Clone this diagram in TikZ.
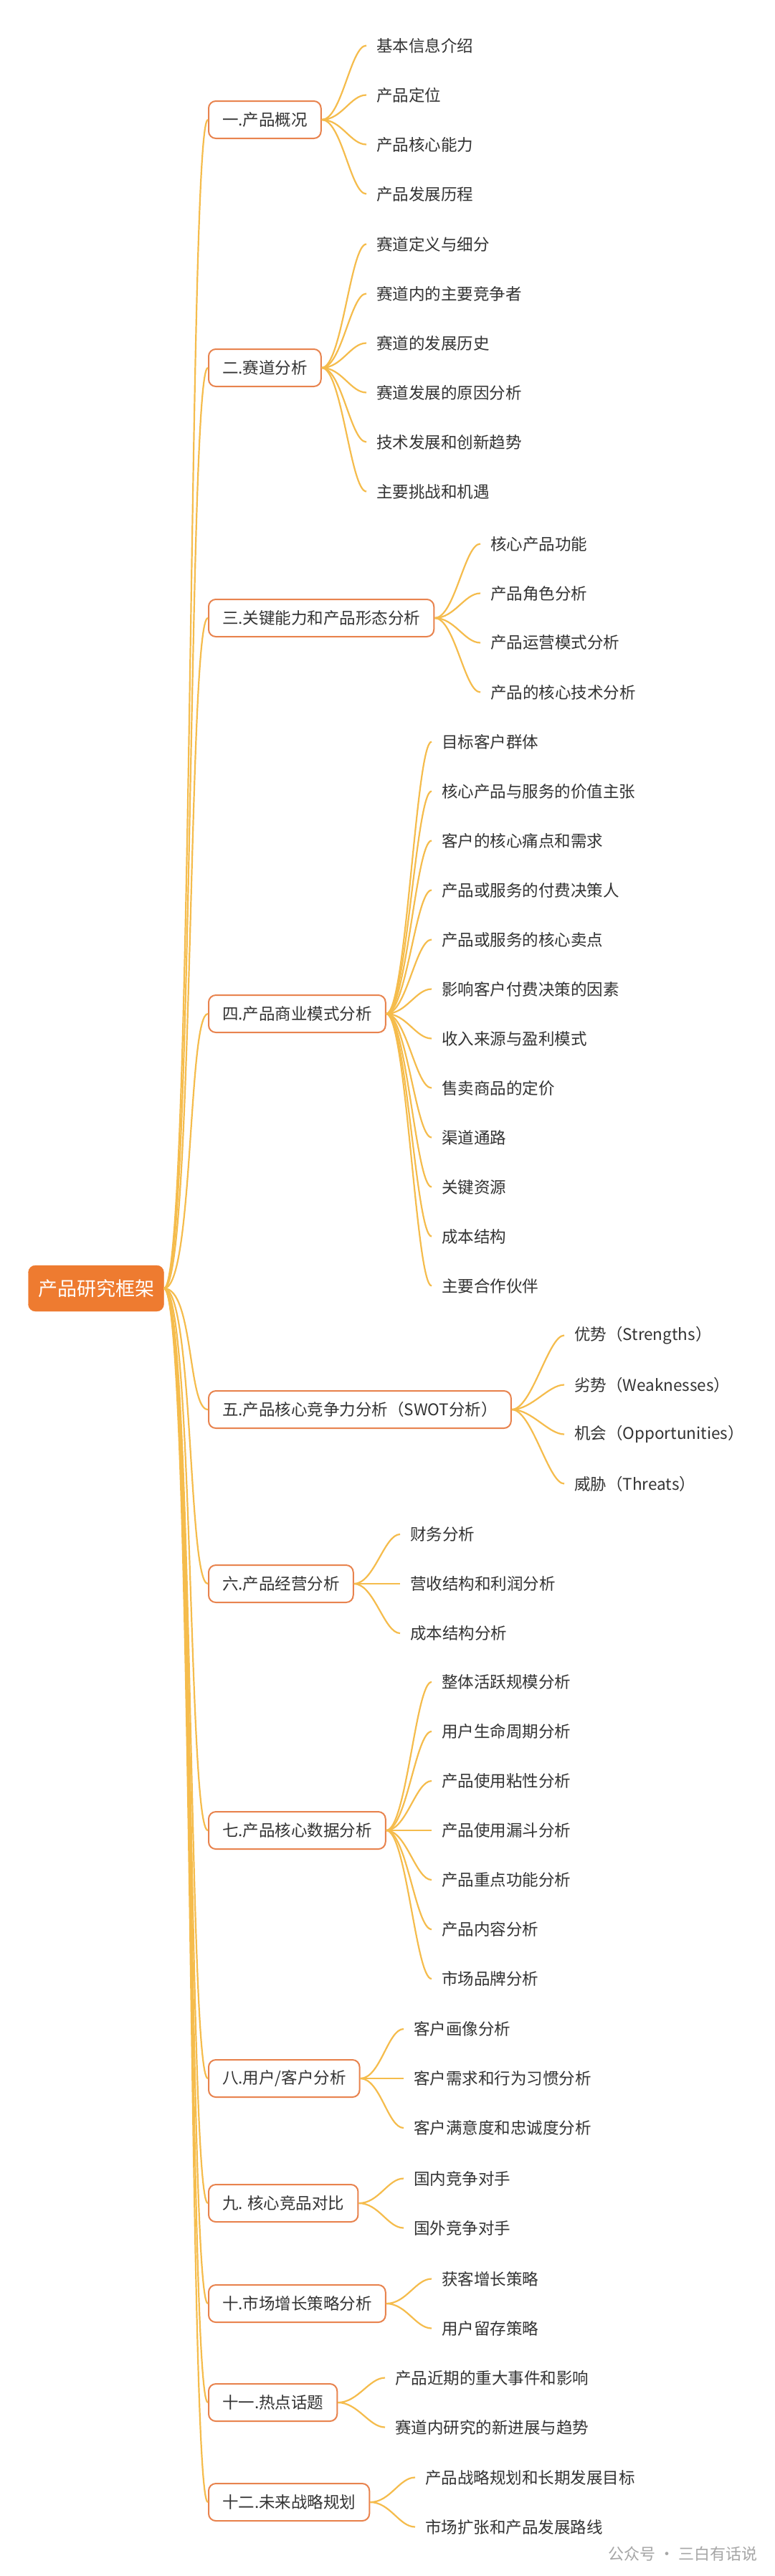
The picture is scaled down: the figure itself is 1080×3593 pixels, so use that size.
\documentclass[tikz,border=0pt]{standalone}
\usepackage{fontspec}
\setmainfont{Noto Sans CJK SC}
\usetikzlibrary{positioning}
\definecolor{linkc}{HTML}{F5BC4C}
\definecolor{boxc}{HTML}{E8834E}
\definecolor{rootc}{HTML}{EE7B30}
\definecolor{txtc}{HTML}{333333}
\tikzset{
  rootbox/.style={fill=rootc,draw=rootc,rounded corners=10pt,text=white,minimum width=189pt,minimum height=64pt,font=\fontsize{27}{30}\selectfont},
  mainbox/.style={draw=boxc,line width=2pt,rounded corners=10pt,anchor=west,inner xsep=19pt,minimum height=52pt,text=txtc},
  leaf/.style={anchor=west,inner xsep=14pt,inner ysep=4pt,text=txtc},
  link/.style={draw=linkc,line width=2.2pt}
}
% #1 name, #2 y, #3 leaf x, #4 count, #5 leaves
\newcommand\branch[5]{%
  \draw[link] (root.east) .. controls (270,1797) and (262,#2) .. (#1.west);
  \foreach \t [count=\i] in {#5}{
    \node[leaf] (#1-\i) at (#3-23,{#2+(\i-(#4+1)/2)*69}) {\t};
    \draw[link] (#1.east) .. controls +(28,0) and +(-22,0) .. (#1-\i.west);
  }}
\begin{document}
\begin{tikzpicture}[x=1pt,y=-1pt,font=\fontsize{22.5}{27}\selectfont]
  \useasboundingbox[fill=white] (0,0) rectangle (1080,3593);
  \node[rootbox] (root) at (134,1797) {产品研究框架};

  \node[mainbox] (m1) at (290,167) {一.产品概况};
  \node[mainbox] (m2) at (290,513) {二.赛道分析};
  \node[mainbox] (m3) at (290,862) {三.关键能力和产品形态分析};
  \node[mainbox] (m4) at (290,1414) {四.产品商业模式分析};
  \node[mainbox] (m5) at (290,1966) {五.产品核心竞争力分析（SWOT分析）};
  \node[mainbox] (m6) at (290,2209) {六.产品经营分析};
  \node[mainbox] (m7) at (290,2553) {七.产品核心数据分析};
  \node[mainbox] (m8) at (290,2899) {八.用户/客户分析};
  \node[mainbox] (m9) at (290,3073) {九. 核心竞品对比};
  \node[mainbox] (m10) at (290,3213) {十.市场增长策略分析};
  \node[mainbox] (m11) at (290,3351) {十一.热点话题};
  \node[mainbox] (m12) at (290,3490) {十二.未来战略规划};

  \branch{m1}{167}{534}{4}{基本信息介绍,产品定位,产品核心能力,产品发展历程}
  \branch{m2}{513}{534}{6}{赛道定义与细分,赛道内的主要竞争者,赛道的发展历史,赛道发展的原因分析,技术发展和创新趋势,主要挑战和机遇}
  \branch{m3}{862}{693}{4}{核心产品功能,产品角色分析,产品运营模式分析,产品的核心技术分析}
  \branch{m4}{1414}{625}{12}{目标客户群体,核心产品与服务的价值主张,客户的核心痛点和需求,产品或服务的付费决策人,产品或服务的核心卖点,影响客户付费决策的因素,收入来源与盈利模式,售卖商品的定价,渠道通路,关键资源,成本结构,主要合作伙伴}
  \branch{m5}{1966}{810}{4}{优势（Strengths）,劣势（Weaknesses）,机会（Opportunities）,威胁（Threats）}
  \branch{m6}{2209}{581}{3}{财务分析,营收结构和利润分析,成本结构分析}
  \branch{m7}{2553}{625}{7}{整体活跃规模分析,用户生命周期分析,产品使用粘性分析,产品使用漏斗分析,产品重点功能分析,产品内容分析,市场品牌分析}
  \branch{m8}{2899}{586}{3}{客户画像分析,客户需求和行为习惯分析,客户满意度和忠诚度分析}
  \branch{m9}{3073}{586}{2}{国内竞争对手,国外竞争对手}
  \branch{m10}{3213}{625}{2}{获客增长策略,用户留存策略}
  \branch{m11}{3351}{560}{2}{产品近期的重大事件和影响,赛道内研究的新进展与趋势}
  \branch{m12}{3490}{602}{2}{产品战略规划和长期发展目标,市场扩张和产品发展路线}

  \node[text=gray!70,anchor=east,font=\fontsize{22}{26}\selectfont] (mark) at (1060,3562) {公众号 · 三白有话说};
\end{tikzpicture}
\end{document}
